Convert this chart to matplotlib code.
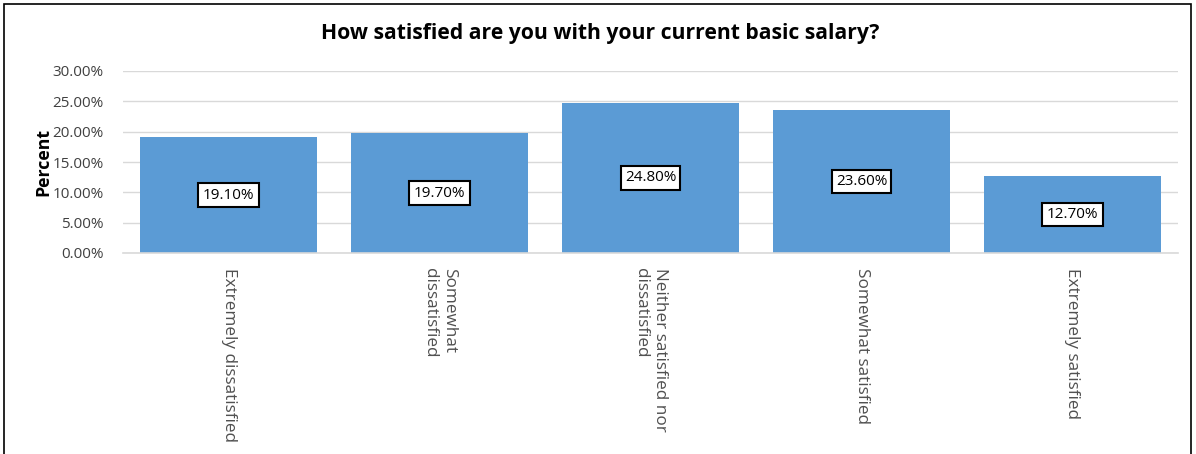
import matplotlib
matplotlib.use("Agg")
import matplotlib.pyplot as plt
from matplotlib.patches import Rectangle

categories = [
    "Extremely dissatisfied",
    "Somewhat\ndissatisfied",
    "Neither satisfied nor\ndissatisfied",
    "Somewhat satisfied",
    "Extremely satisfied",
]
values = [19.10, 19.70, 24.80, 23.60, 12.70]
yticks = [0, 5, 10, 15, 20, 25, 30]

plt.rcParams["font.family"] = ["Open Sans", "DejaVu Sans"]

W, H = 1196, 454
fig = plt.figure(figsize=(W / 100, H / 100), dpi=100)
ax = fig.add_axes([123 / W, 1 - 253 / H, (1178 - 123) / W, (253 - 71) / H])

x = range(len(categories))
bars = ax.bar(x, values, width=0.84, color="#5B9BD5", zorder=2)

for xi, v in zip(x, values):
    ax.text(xi, v / 2, f"{v:.2f}%", ha="center", va="center", fontsize=11,
            color="#000000", zorder=3,
            bbox=dict(boxstyle="square,pad=0.28", fc="white", ec="black", lw=1.5))

ax.set_xlim(-0.5, len(categories) - 0.5)
ax.set_ylim(0, 30)
ax.set_yticks(yticks)
ax.set_yticklabels([f"{t:.2f}%" for t in yticks], fontsize=11, color="#404040")
ax.grid(axis="y", color="#D9D9D9", lw=1, zorder=0)
ax.tick_params(axis="both", length=0)
ax.tick_params(axis="y", pad=14)
for s in ["top", "right", "left"]:
    ax.spines[s].set_visible(False)
ax.spines["bottom"].set_color("#D9D9D9")
ax.spines["bottom"].set_linewidth(1.2)

ax.set_xticks(list(x))
ax.set_xticklabels(categories, rotation=-90, ha="center", va="top",
                   multialignment="left", fontsize=12.3, color="#505050")
ax.tick_params(axis="x", pad=11)

ax.set_ylabel("Percent", fontsize=12.8, fontweight="bold", labelpad=0)

fig.text(600 / W, 1 - 33 / H, "How satisfied are you with your current basic salary?",
         ha="center", va="center", fontsize=15.2, fontweight="bold", color="#000000")

fig.patches.append(Rectangle((4 / W, -0.02), (1191 - 4) / W, 1 - 4 / H + 0.02,
                             transform=fig.transFigure, fill=False, ec="black",
                             lw=1.2, zorder=10))

fig.savefig("out.png", dpi=100)
